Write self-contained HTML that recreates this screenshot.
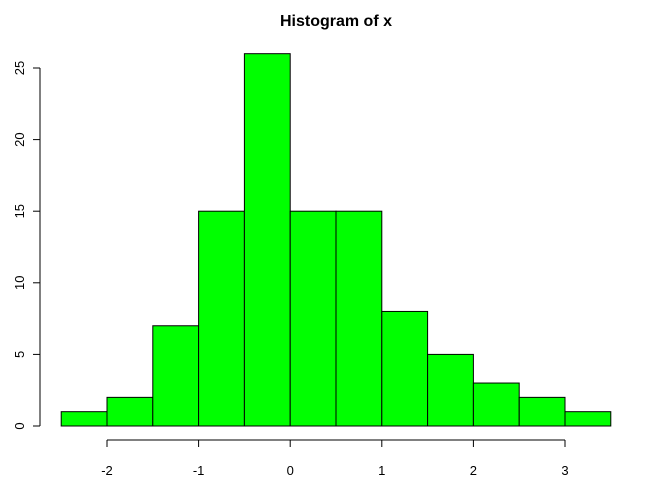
<!DOCTYPE html>
<html><head><meta charset="utf-8"><style>
html,body{margin:0;padding:0;background:#fff}
svg{display:block}
text{font-family:"Liberation Sans",Arial,sans-serif;fill:#000}
</style></head><body>
<svg id="chart" width="672" height="480" viewBox="0 0 672 480">
<text x="336" y="26" text-anchor="middle" font-size="16" font-weight="bold">Histogram of x</text>
<g id="bars"></g>
<g id="xaxis"></g>
<g id="yaxis"></g>
</svg>
<script>
const binStarts = [-2.5,-2,-1.5,-1,-0.5,0,0.5,1,1.5,2,2.5,3];
const counts = [1,2,7,15,26,15,15,8,5,3,2,1];
const binWidth = 0.5;
const xTicks = [-2,-1,0,1,2,3];
const yTicks = [0,5,10,15,20,25];

const NS="http://www.w3.org/2000/svg";
const xs = v => 107 + (v + 2) * (565 - 107) / 5;
const ys = v => 426 - v * (426 - 68) / 25;
function mk(tag, attrs, parent){const e=document.createElementNS(NS,tag);for(const k in attrs)e.setAttribute(k,attrs[k]);parent.appendChild(e);return e;}

const bars=document.getElementById('bars');
binStarts.forEach((b,i)=>{
  const x0=xs(b), x1=xs(b+binWidth), y=ys(counts[i]);
  const r=mk('rect',{x:x0,y:y,width:x1-x0,height:ys(0)-y,fill:'#00ff00',stroke:'#000','stroke-width':1},bars);
  
  
});

const xa=document.getElementById('xaxis');
const xl=mk('line',{x1:xs(xTicks[0]),x2:xs(xTicks[xTicks.length-1]),y1:440,y2:440,stroke:'#000'},xa);


xTicks.forEach(t=>{
  mk('line',{x1:xs(t),x2:xs(t),y1:440,y2:447,stroke:'#000'},xa);
  const tx=mk('text',{x:xs(t),y:475,'text-anchor':'middle','font-size':13},xa);
  tx.textContent=t;
  
  
});

const ya=document.getElementById('yaxis');
const yl=mk('line',{x1:40,x2:40,y1:ys(yTicks[0]),y2:ys(yTicks[yTicks.length-1]),stroke:'#000'},ya);


yTicks.forEach(t=>{
  mk('line',{x1:33,x2:40,y1:ys(t),y2:ys(t),stroke:'#000'},ya);
  const tx=mk('text',{x:0,y:0,'text-anchor':'middle','font-size':13,transform:`translate(24,${ys(t)}) rotate(-90)`},ya);
  tx.textContent=t;
  
  
});
</script>
</body></html>
